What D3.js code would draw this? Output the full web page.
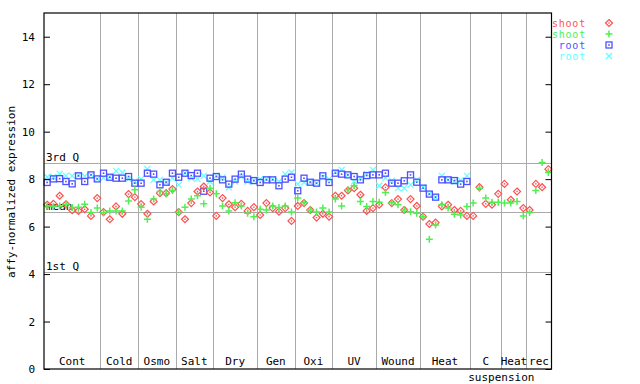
<!DOCTYPE html>
<html><head><meta charset="utf-8">
<script src="https://cdn.jsdelivr.net/npm/d3@7"></script>
<style>body{margin:0;background:#fff}svg{display:block}text{font-family:"DejaVu Sans Mono",monospace;font-size:11px}</style>
</head><body>
<svg id="c" width="640" height="384"></svg>
<script>
const groups = ["Cont","Cold","Osmo","Salt","Dry","Gen","Oxi","UV","Wound","Heat","C","Heat","rec"];
const groupSizes = [9,6,6,6,7,6,6,7,7,8,5,4,4];
const yTicks = [0,2,4,6,8,10,12,14];
const refLines = [{label:"3rd Q", v:8.67},{label:"mean", v:6.61},{label:"1st Q", v:4.07}];
const seriesNames = ["shoot","shoot","root","root"];
const shootA = [6.92,6.96,7.30,6.94,6.69,6.66,6.73,6.45,7.20,
  6.61,6.31,6.85,6.54,7.37,7.24,
  6.95,6.54,7.06,7.41,7.41,7.58,
  6.61,6.31,6.99,7.48,7.69,7.44,
  6.45,7.20,6.94,6.82,6.96,6.66,6.82,
  6.49,6.99,6.78,6.63,6.78,6.24,
  6.87,6.99,6.70,6.38,6.54,6.42,
  7.30,7.30,7.52,7.62,7.34,6.66,6.78,
  6.92,7.65,6.99,7.16,6.70,7.16,6.87,
  6.42,6.11,6.17,6.85,6.92,6.70,6.66,6.45,
  6.45,7.66,6.96,6.92,7.38,
  7.80,7.13,7.48,6.78,
  6.70,7.80,7.66,8.42];
const shootB = [6.87,6.85,6.87,6.93,6.80,6.82,6.94,6.59,6.78,
  6.58,6.66,6.66,6.66,7.08,7.55,
  6.82,6.31,7.16,7.48,7.38,7.52,
  6.61,6.82,7.16,7.30,6.96,7.62,
  7.38,6.87,6.66,7.01,6.87,6.56,6.42,
  6.73,6.70,6.87,6.80,6.87,6.62,
  7.20,7.01,6.70,6.62,6.78,6.62,
  7.16,6.87,7.55,7.72,7.06,6.85,7.06,
  7.03,7.44,7.01,6.92,6.70,6.63,6.56,
  6.42,5.47,6.07,6.92,6.78,6.52,6.49,6.85,
  6.99,7.62,7.20,7.03,7.03,
  6.99,6.99,7.06,6.45,
  6.59,7.52,8.70,8.28];
const rootA = [7.86,8.01,8.02,7.90,7.80,8.14,7.90,8.18,8.01,
  8.25,8.08,8.04,8.04,8.11,7.83,
  7.83,8.25,8.21,7.76,7.87,8.25,
  8.08,8.25,8.15,8.25,7.49,8.04,
  8.11,7.97,7.79,8.00,8.21,8.00,7.94,
  7.86,7.97,7.97,7.72,8.00,8.08,
  7.51,8.04,7.87,7.83,8.14,7.86,
  8.25,8.21,8.18,8.11,7.97,8.15,8.18,
  8.18,8.25,7.83,7.83,7.93,8.18,7.87,
  7.62,7.37,7.24,7.97,7.97,7.94,7.79,7.90];
const rootB = [8.09,8.09,8.22,8.14,8.14,8.16,8.12,8.18,8.01,
  8.05,8.10,8.35,8.28,8.00,7.90,
  8.00,8.43,7.97,7.97,7.87,8.04,
  7.76,8.25,8.04,8.01,8.14,7.90,
  8.14,8.07,7.65,7.90,8.11,7.90,7.94,
  8.00,8.00,8.00,7.90,8.21,8.28,
  7.79,7.87,7.87,7.83,8.08,8.00,
  8.30,8.39,8.18,7.90,8.05,8.22,8.39,
  7.72,8.04,7.94,7.62,7.62,7.76,7.97,
  7.66,7.37,7.24,8.14,7.97,7.90,7.95,8.14];

const colors = ["#ff5050","#50f050","#5050ff","#60ffff"];
const shapes = ["diamond","plus","square","cross"];
const allSeries = [shootA, shootB, rootA, rootB];

const svg = d3.select("#c");
const L=44, R=551.5, T=13, B=369;
const nSamples = d3.sum(groupSizes);
const x = d3.scaleLinear().domain([0,nSamples]).range([L,R]);
const y = d3.scaleLinear().domain([0,15]).range([B,T]);

refLines.forEach(r=>{
  svg.append("line").attr("x1",L).attr("x2",R).attr("y1",Math.round(y(r.v))+0.5).attr("y2",Math.round(y(r.v))+0.5)
    .attr("stroke","#aaa").attr("stroke-width",1);
});
let cum = 0;
const bounds = [];
groupSizes.forEach((s,i)=>{ const a=cum; cum+=s; bounds.push([a,cum]); });
bounds.slice(0,-1).forEach(b=>{
  const xx = Math.round(x(b[1]))+0.5;
  svg.append("line").attr("x1",xx).attr("x2",xx).attr("y1",T).attr("y2",B).attr("stroke","#aaa");
});
refLines.forEach(r=>{
  svg.append("text").attr("x",L+2).attr("y",Math.round(y(r.v))-2).text(r.label).attr("fill","#000");
});

function drawMarker(g, shape, cx, cy, col){
  if(shape==="diamond"){
    g.append("path").attr("d",`M${cx},${cy-3.5}L${cx+3.5},${cy}L${cx},${cy+3.5}L${cx-3.5},${cy}Z`)
      .attr("fill","none").attr("stroke",col).attr("stroke-width",1.2);
    g.append("rect").attr("x",cx-0.7).attr("y",cy-0.7).attr("width",1.4).attr("height",1.4).attr("fill",col);
  } else if(shape==="plus"){
    g.append("path").attr("d",`M${cx-3.5},${cy}H${cx+3.5}M${cx},${cy-3.5}V${cy+3.5}`)
      .attr("stroke",col).attr("stroke-width",1.5).attr("fill","none");
  } else if(shape==="square"){
    g.append("rect").attr("x",cx-3).attr("y",cy-3).attr("width",6).attr("height",6)
      .attr("fill","none").attr("stroke",col).attr("stroke-width",1.3);
    g.append("rect").attr("x",cx-0.8).attr("y",cy-0.8).attr("width",1.6).attr("height",1.6).attr("fill",col);
  } else {
    g.append("path").attr("d",`M${cx-3},${cy-3}L${cx+3},${cy+3}M${cx+3},${cy-3}L${cx-3},${cy+3}`)
      .attr("stroke",col).attr("stroke-width",1.2).attr("fill","none");
  }
}

const pts = svg.append("g");
[3,2,0,1].forEach(si=>{
  const g = pts.append("g");
  allSeries[si].forEach((v,i)=>{
    drawMarker(g, shapes[si], x(i+0.5), y(v), colors[si]);
  });
});

const yl = svg.append("g").attr("transform",`translate(${L},0)`)
  .call(d3.axisLeft(y).tickValues(yTicks).tickSize(-6).tickSizeOuter(0).tickPadding(9).tickFormat(d3.format("d")));
yl.select(".domain").remove();
yl.selectAll("text").style("font-family","DejaVu Sans Mono").style("font-size","11px");
const yr = svg.append("g").attr("transform",`translate(${R},0)`)
  .call(d3.axisRight(y).tickValues(yTicks).tickSize(-6).tickSizeOuter(0).tickFormat(""));
yr.select(".domain").remove();
svg.append("rect").attr("x",L).attr("y",T).attr("width",R-L).attr("height",B-T)
  .attr("fill","none").attr("stroke","#000").attr("stroke-width",1.2);

bounds.forEach((b,i)=>{
  svg.append("text").attr("x",(x(b[0])+x(b[1]))/2).attr("y",B-4).attr("text-anchor","middle").text(groups[i]);
});
svg.append("text").attr("x",x(bounds[10][1])).attr("y",381).attr("text-anchor","middle").text("suspension");

svg.append("text").attr("transform","translate(15,192) rotate(-90)").attr("text-anchor","middle").text("affy-normalized expression");

seriesNames.forEach((n,i)=>{
  const ly = 23 + i*11;
  svg.append("text").attr("x",586).attr("y",ly+3.5).attr("text-anchor","end").attr("fill",colors[i])
    .style("font-size","10px").style("letter-spacing","0.8px").text(n);
  drawMarker(svg, shapes[i], 609, ly, colors[i]);
});
</script>
</body></html>
